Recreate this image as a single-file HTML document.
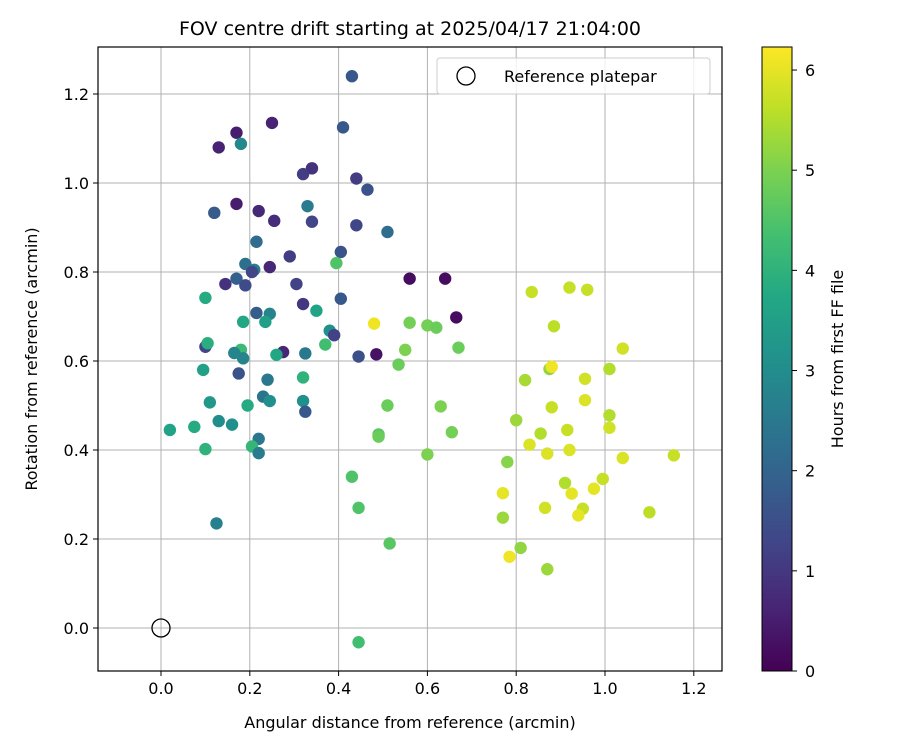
<!DOCTYPE html>
<html><head><meta charset="utf-8"><style>
body{margin:0;background:#fff}
svg text{font-family:"DejaVu Sans","Liberation Sans",sans-serif;fill:#000}
</style></head><body>
<svg id="chart" width="900" height="750" xmlns="http://www.w3.org/2000/svg">
<defs>
<linearGradient id="vir" x1="0" y1="1" x2="0" y2="0">
<stop offset="0" stop-color="#440154"/><stop offset="0.1" stop-color="#482475"/><stop offset="0.2" stop-color="#414487"/><stop offset="0.3" stop-color="#355f8d"/><stop offset="0.4" stop-color="#2a788e"/><stop offset="0.5" stop-color="#21918c"/><stop offset="0.6" stop-color="#22a884"/><stop offset="0.7" stop-color="#44bf70"/><stop offset="0.8" stop-color="#7ad151"/><stop offset="0.9" stop-color="#bddf26"/><stop offset="1" stop-color="#fde725"/>
</linearGradient>
<clipPath id="pc"><rect x="98" y="47" width="624" height="624"/></clipPath>
</defs>
<text x="410" y="35" text-anchor="middle" font-size="19">FOV centre drift starting at 2025/04/17 21:04:00</text>
<g id="grid"></g>
<g id="pts" clip-path="url(#pc)"></g>
<rect x="98" y="47" width="624" height="624" fill="none" stroke="#000" stroke-width="1.2"/>
<g id="ticks"></g>
<text x="410" y="728" text-anchor="middle" font-size="16">Angular distance from reference (arcmin)</text>
<text transform="translate(37,359) rotate(-90)" text-anchor="middle" font-size="16">Rotation from reference (arcmin)</text>
<g>
<rect x="437" y="58" width="273" height="36" rx="3" fill="#fff" fill-opacity="0.8" stroke="#ccc"/>
<circle cx="466" cy="76" r="9" fill="none" stroke="#000" stroke-width="1.3"/>
<text x="504" y="82" font-size="16">Reference platepar</text>
</g>
<rect x="762" y="47" width="30" height="624" fill="url(#vir)" stroke="#000" stroke-width="1"/>
<g id="cbticks"></g>
<text transform="translate(843,359) rotate(-90)" text-anchor="middle" font-size="16">Hours from first FF file</text>
</svg>
<script>
const xs=[0.43,0.41,0.25,0.17,0.13,0.18,0.34,0.32,0.44,0.465,0.17,0.33,0.12,0.22,0.255,0.34,0.44,0.51,0.215,0.405,0.29,0.19,0.245,0.21,0.395,0.205,0.17,0.19,0.145,0.305,0.56,0.64,0.665,0.1,0.405,0.215,0.245,0.32,0.35,0.185,0.235,0.48,0.56,0.60,0.62,0.38,0.39,0.10,0.105,0.37,0.18,0.275,0.165,0.26,0.325,0.445,0.485,0.67,0.55,0.185,0.535,0.095,0.175,0.24,0.32,0.11,0.195,0.23,0.245,0.32,0.325,0.51,0.63,0.13,0.16,0.075,0.02,0.1,0.22,0.205,0.22,0.49,0.49,0.655,0.60,0.43,0.125,0.445,0.515,0.445,
0.835,0.92,0.96,0.885,1.04,0.875,0.88,1.01,0.82,0.955,0.955,0.88,1.01,0.8,0.855,0.915,1.01,0.78,0.83,0.87,0.92,1.04,1.155,0.91,0.995,0.925,0.975,0.77,0.865,0.95,0.94,1.1,0.77,0.81,0.785,0.87];
const ys=[1.24,1.125,1.135,1.113,1.08,1.088,1.033,1.02,1.01,0.985,0.953,0.948,0.933,0.937,0.915,0.913,0.905,0.89,0.868,0.845,0.835,0.818,0.811,0.805,0.82,0.80,0.785,0.77,0.773,0.773,0.785,0.785,0.698,0.742,0.74,0.708,0.706,0.728,0.713,0.688,0.688,0.684,0.686,0.68,0.675,0.668,0.658,0.632,0.64,0.637,0.625,0.62,0.618,0.614,0.617,0.61,0.615,0.63,0.625,0.606,0.592,0.58,0.572,0.558,0.563,0.507,0.50,0.52,0.51,0.51,0.486,0.50,0.498,0.465,0.457,0.452,0.445,0.402,0.425,0.408,0.393,0.435,0.43,0.44,0.39,0.34,0.235,0.27,0.19,-0.032,
0.755,0.765,0.76,0.678,0.628,0.582,0.587,0.582,0.557,0.56,0.512,0.496,0.478,0.467,0.437,0.445,0.45,0.373,0.412,0.392,0.40,0.382,0.388,0.326,0.335,0.302,0.313,0.303,0.27,0.268,0.253,0.26,0.248,0.18,0.16,0.132];
const hours=[1.7,1.7,0.6,0.5,0.6,2.9,0.9,1.1,1.1,1.6,0.5,2.6,1.8,0.7,0.8,1.3,1.3,2.2,2.2,1.6,1.1,2.3,0.7,2.7,4.5,1.3,1.9,1.4,0.9,1.2,0.2,0.2,0.2,3.8,1.7,1.8,2.8,1.0,3.6,3.7,3.5,6.1,4.9,4.9,4.8,3.1,1.2,1.3,3.9,4.3,4.2,0.7,2.8,3.7,2.5,1.5,0.3,4.8,5.0,2.8,4.8,3.5,1.6,2.5,4.0,3.3,3.8,2.4,3.1,3.1,1.7,4.8,5.0,3.0,3.1,3.8,3.6,4.0,2.5,4.1,2.6,4.6,4.8,4.9,5.0,4.5,2.7,4.5,4.6,4.3,
5.7,5.7,5.7,5.6,5.8,5.2,6.1,5.5,5.4,5.8,5.9,5.7,5.5,5.3,5.5,5.7,5.8,5.1,5.9,5.9,5.9,5.9,5.7,5.5,5.7,6.0,6.0,6.0,5.8,5.7,6.0,5.6,5.3,5.2,6.1,5.3];
const xTicks=["0.0","0.2","0.4","0.6","0.8","1.0","1.2"];
const yTicks=["0.0","0.2","0.4","0.6","0.8","1.0","1.2"];
const cTicks=["0","1","2","3","4","5","6"];
const HMAX=6.23;
const sx=v=>161+v*444, sy=v=>628-v*445, sc=v=>671-v/HMAX*624;
const stops=["#440154","#482475","#414487","#355f8d","#2a788e","#21918c","#22a884","#44bf70","#7ad151","#bddf26","#fde725"].map(h=>[1,3,5].map(i=>parseInt(h.substr(i,2),16)));
function vir(t){t=Math.max(0,Math.min(1,t))*10;const i=Math.min(9,Math.floor(t)),f=t-i;const a=stops[i],b=stops[i+1];return "rgb("+a.map((c,k)=>Math.round(c+(b[k]-c)*f)).join(",")+")";}
const NS="http://www.w3.org/2000/svg";
function mk(tag,attrs,parent){const e=document.createElementNS(NS,tag);for(const k in attrs)e.setAttribute(k,attrs[k]);parent.appendChild(e);return e;}
const grid=document.getElementById("grid"),ticks=document.getElementById("ticks"),pts=document.getElementById("pts"),cb=document.getElementById("cbticks");
xTicks.forEach(t=>{const x=sx(+t);
const g=mk("line",{x1:x,x2:x,y1:47,y2:671,stroke:"#b0b0b0","stroke-width":1},grid);


mk("line",{x1:x,x2:x,y1:671,y2:676,stroke:"#000"},ticks);
const l=mk("text",{x:x,y:694,"text-anchor":"middle","font-size":"16"},ticks);l.textContent=t;

});
yTicks.forEach(t=>{const y=sy(+t);
const g=mk("line",{x1:98,x2:722,y1:y,y2:y,stroke:"#b0b0b0","stroke-width":1},grid);


mk("line",{x1:93,x2:98,y1:y,y2:y,stroke:"#000"},ticks);
const l=mk("text",{x:89,y:y+6,"text-anchor":"end","font-size":"16"},ticks);l.textContent=t;

});
cTicks.forEach(t=>{const y=sc(+t);
mk("line",{x1:792,x2:797,y1:y,y2:y,stroke:"#000"},cb);
const l=mk("text",{x:805,y:y+6,"font-size":"16"},cb);l.textContent=t;

});
xs.forEach((x,i)=>{const c=mk("circle",{cx:sx(x),cy:sy(ys[i]),r:6.2,fill:vir(hours[i]/HMAX)},pts);

});
const ref=mk("circle",{cx:sx(0),cy:sy(0),r:9,fill:"none",stroke:"#000","stroke-width":1.3},pts);


</script>
</body></html>
